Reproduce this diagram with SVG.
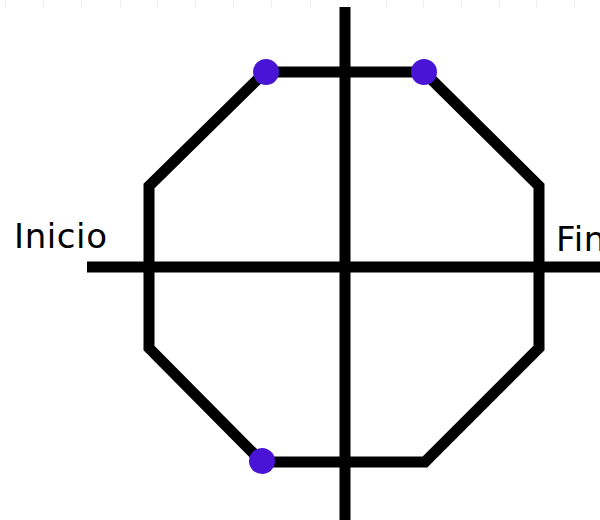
<svg xmlns="http://www.w3.org/2000/svg" width="600" height="520" viewBox="0 0 600 520">
<style>
.ln{stroke:#000;stroke-width:11;fill:none}
.dot{fill:#4a14d6}
.lbl{font-family:"DejaVu Sans",sans-serif;font-size:34px;letter-spacing:0.6px;fill:#000}
.tick{stroke:#ececec;stroke-width:1}
</style>
<rect width="600" height="520" fill="#fff"/>
<g id="ticks">
<line class="tick" x1="5.5" y1="0" x2="5.5" y2="7"/>
<line class="tick" x1="43.5" y1="0" x2="43.5" y2="7"/>
<line class="tick" x1="81.5" y1="0" x2="81.5" y2="7"/>
<line class="tick" x1="120.5" y1="0" x2="120.5" y2="7"/>
<line class="tick" x1="157.5" y1="0" x2="157.5" y2="7"/>
<line class="tick" x1="195.5" y1="0" x2="195.5" y2="7"/>
<line class="tick" x1="233.5" y1="0" x2="233.5" y2="7"/>
<line class="tick" x1="271.5" y1="0" x2="271.5" y2="7"/>
<line class="tick" x1="310.5" y1="0" x2="310.5" y2="7"/>
<line class="tick" x1="348.5" y1="0" x2="348.5" y2="7"/>
<line class="tick" x1="386.5" y1="0" x2="386.5" y2="7"/>
<line class="tick" x1="423.5" y1="0" x2="423.5" y2="7"/>
<line class="tick" x1="461.5" y1="0" x2="461.5" y2="7"/>
<line class="tick" x1="499.5" y1="0" x2="499.5" y2="7"/>
<line class="tick" x1="536.5" y1="0" x2="536.5" y2="7"/>
<line class="tick" x1="574.5" y1="0" x2="574.5" y2="7"/>
</g>
<g id="connectors">
<polygon id="octagon" class="ln" stroke-linejoin="miter" points="265,72 424,72 539,186 539,348 425,462 262,462 149,348 149,186"/>
<line id="axis-h" class="ln" x1="87" y1="267" x2="600" y2="267"/>
<line id="axis-v" class="ln" x1="345" y1="7" x2="345" y2="520"/>
</g>
<g id="p1"><circle class="dot" cx="266" cy="72" r="13"/></g>
<g id="p2"><circle class="dot" cx="424" cy="72" r="13"/></g>
<g id="p3"><circle class="dot" cx="262" cy="461" r="13"/></g>
<g id="inicio"><text class="lbl" x="14" y="248">Inicio</text></g>
<g id="fin"><text class="lbl" x="556" y="251">Fin</text></g>
</svg>
